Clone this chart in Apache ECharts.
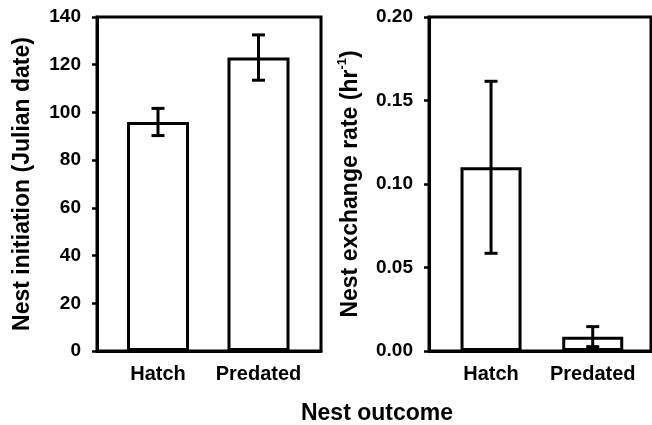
<!DOCTYPE html>
<html>
<head>
<meta charset="utf-8">
<script src="https://cdn.jsdelivr.net/npm/echarts@6/dist/echarts.min.js"></script>
<style>html,body{margin:0;padding:0;background:#fff}#c{width:652px;height:425px}</style>
</head>
<body>
<div id="c"></div>
<script>
const categories = ['Hatch', 'Predated'];
const initiationMean = [96, 123];
const initiationErr = [5.7, 9.5];
const exchangeMean = [0.110, 0.0086];
const exchangeErr = [0.0515, 0.006];
const initiationTicks = [0, 20, 40, 60, 80, 100, 120, 140];
const exchangeTicks = [0, 0.05, 0.10, 0.15, 0.20];

const FONT = 'Liberation Sans';
const chart = echarts.init(document.getElementById('c'), null, {renderer: 'canvas'});

function barData(means) { return means.map((v, i) => [i, v]); }
function errData(means, errs) { return means.map((v, i) => [i, v - errs[i], v + errs[i]]); }

function errSeries(idx, means, errs) {
  return {
    type: 'custom', xAxisIndex: idx, yAxisIndex: idx, z: 5,
    data: errData(means, errs),
    renderItem: function (params, api) {
      const x = api.value(0);
      const lo = api.coord([x, api.value(1)]);
      const hi = api.coord([x, api.value(2)]);
      const half = 6.5;
      const st = {stroke: '#000', lineWidth: 3, fill: null};
      return {
        type: 'group',
        children: [
          {type: 'line', shape: {x1: lo[0], y1: lo[1], x2: hi[0], y2: hi[1]}, style: st},
          {type: 'line', shape: {x1: hi[0] - half, y1: hi[1], x2: hi[0] + half, y2: hi[1]}, style: st},
          {type: 'line', shape: {x1: lo[0] - half, y1: lo[1], x2: lo[0] + half, y2: lo[1]}, style: st}
        ]
      };
    }
  };
}

function xAxisDef(idx, min, max) {
  return {
    type: 'value', gridIndex: idx, min: min, max: max,
    splitLine: {show: false},
    axisLine: {show: true, onZero: false, lineStyle: {color: '#000', width: 3}},
    axisTick: {show: false},
    axisLabel: {
      customValues: categories.map((c, i) => i),
      formatter: v => categories[Math.round(v)] || '',
      color: '#000', fontFamily: FONT, fontWeight: 'bold', fontSize: 20, margin: 13
    }
  };
}

function yAxisDef(idx, ticks, fmt, name) {
  const step = ticks[1] - ticks[0];
  return {
    type: 'value', gridIndex: idx, min: ticks[0], max: ticks[ticks.length - 1], interval: step,
    splitLine: {show: false},
    axisLine: {show: true, onZero: false, lineStyle: {color: '#000', width: 3}},
    axisTick: {show: true, inside: false, length: 5, lineStyle: {color: '#000', width: 2.5}},
    axisLabel: {formatter: fmt, color: '#000', fontFamily: FONT, fontWeight: 'bold', fontSize: 19, margin: 16},
    name: name.text, nameLocation: 'middle', nameGap: name.gap, nameRotate: 90,
    nameTextStyle: name.style
  };
}

chart.setOption({
  animation: false,
  backgroundColor: '#fff',
  grid: [
    {left: 97, top: 17, width: 224, height: 334, show: true, borderColor: '#000', borderWidth: 3, backgroundColor: 'transparent'},
    {left: 429, top: 17, width: 222, height: 334, show: true, borderColor: '#000', borderWidth: 3, backgroundColor: 'transparent'}
  ],
  xAxis: [xAxisDef(0, -0.607, 1.622), xAxisDef(1, -0.61, 1.573)],
  yAxis: [
    yAxisDef(0, initiationTicks, v => String(v), {
      text: 'Nest initiation (Julian date)', gap: 63,
      style: {color: '#000', fontFamily: FONT, fontWeight: 'bold', fontSize: 23}
    }),
    yAxisDef(1, exchangeTicks, v => v.toFixed(2), {
      text: '{m|Nest exchange rate (hr}{s|-1}{m|)}', gap: 67,
      style: {
        color: '#000', fontFamily: FONT, fontWeight: 'bold', fontSize: 23,
        rich: {
          m: {color: '#000', fontFamily: FONT, fontWeight: 'bold', fontSize: 23, lineHeight: 26, verticalAlign: 'bottom'},
          s: {color: '#000', fontFamily: FONT, fontWeight: 'bold', fontSize: 13, lineHeight: 26, verticalAlign: 'top'}
        }
      }
    })
  ],
  graphic: [{
    type: 'text', x: 377, y: 414,
    style: {text: 'Nest outcome', fill: '#000', font: 'bold 23px "Liberation Sans"', textAlign: 'center', textVerticalAlign: 'middle'}
  }],
  series: [
    {type: 'bar', xAxisIndex: 0, yAxisIndex: 0, data: barData(initiationMean), barWidth: 62,
     itemStyle: {color: '#fff', borderColor: '#000', borderWidth: 3}},
    errSeries(0, initiationMean, initiationErr),
    {type: 'bar', xAxisIndex: 1, yAxisIndex: 1, data: barData(exchangeMean), barWidth: 61,
     itemStyle: {color: '#fff', borderColor: '#000', borderWidth: 3}},
    errSeries(1, exchangeMean, exchangeErr)
  ]
});
</script>
</body>
</html>
